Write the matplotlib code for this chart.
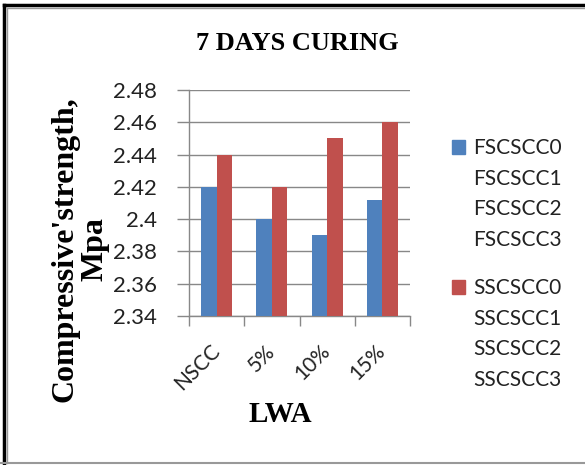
import matplotlib.pyplot as plt
import numpy as np
from matplotlib.patches import Patch
from matplotlib.lines import Line2D

# data
categories = ['NSCC', '5%', '10%', '15%']
fscscc = [2.42, 2.40, 2.39, 2.412]
sscscc = [2.44, 2.42, 2.45, 2.46]
f_labels = ['FSCSCC0', 'FSCSCC1', 'FSCSCC2', 'FSCSCC3']
s_labels = ['SSCSCC0', 'SSCSCC1', 'SSCSCC2', 'SSCSCC3']
yticks = [2.34, 2.36, 2.38, 2.40, 2.42, 2.44, 2.46, 2.48]
ytick_labels = ['2.34', '2.36', '2.38', '2.4', '2.42', '2.44', '2.46', '2.48']

blue = '#4f81bd'
red = '#c0504d'
tick_font = 'Lato'
serif = 'Liberation Serif'

fig = plt.figure(figsize=(5.85, 4.65), dpi=100)
ax = fig.add_axes([189/585, 1-316/465, (410-189)/585, (316-90)/465])

x = np.arange(len(categories))
w = 0.28
ax.bar(x - w/2, fscscc, w, color=blue, zorder=3)
ax.bar(x + w/2, sscscc, w, color=red, zorder=3)

ax.set_xlim(-0.5, len(categories) - 0.5)
ax.set_ylim(2.34, 2.48)
ax.set_yticks(yticks)
ax.set_yticklabels(ytick_labels, fontsize=16, family=tick_font, color='#222222')
ax.set_xticks(x)
ax.set_xticklabels(categories, fontsize=15, family=tick_font, color='#222222',
                   rotation=45, ha='right', va='center', rotation_mode='anchor')
ax.tick_params(axis='x', length=0, pad=23)
ax.set_xticks(np.arange(-0.5, len(categories)), minor=True)
ax.tick_params(axis='x', which='minor', length=7, color='#888888', width=1)
ax.tick_params(axis='y', length=9, color='#888888', width=1, pad=14)

ax.grid(axis='y', color='#888888', linewidth=1, zorder=0)
for s in ['top', 'right']:
    ax.spines[s].set_visible(False)
for s in ['left', 'bottom']:
    ax.spines[s].set_color('#888888')
    ax.spines[s].set_linewidth(1)

ax.set_ylabel("Compressive'strength,\nMpa", fontsize=23, family=serif,
              fontweight='bold', linespacing=1.05)
ax.yaxis.label.set_va('center')
ax.yaxis.set_label_coords((80-189)/221, (316-249)/226)
ax.set_xlabel('LWA', fontsize=21, family=serif, fontweight='bold')
ax.xaxis.label.set_va('center')
ax.xaxis.set_label_coords((280-189)/221, (316-415)/226)
fig.text(297/585, 1-44/465, '7 DAYS CURING', fontsize=19, family=serif,
         fontweight='bold', ha='center', va='center')

# legend: only the first of each group has a visible swatch
f_handles = [Patch(color=blue)] + [Patch(color='none')] * 3
s_handles = [Patch(color=red)] + [Patch(color='none')] * 3
leg_kw = dict(frameon=False, handlelength=0.6, handleheight=0.6, handletextpad=0.4,
              labelspacing=0.5, prop={'family': tick_font, 'size': 15},
              labelcolor='#222222', borderaxespad=0)
leg1 = fig.legend(f_handles, f_labels, loc='upper left',
                  bbox_to_anchor=(444/585, 1-130/465), **leg_kw)
leg2 = fig.legend(s_handles, s_labels, loc='upper left',
                  bbox_to_anchor=(444/585, 1-270/465), **leg_kw)

# chart frame
fig.add_artist(Line2D([4/585, 4/585], [0, 1-5/465], color='black', lw=2.5))
fig.add_artist(Line2D([4/585, 1], [1-5/465, 1-5/465], color='black', lw=2.5))
fig.add_artist(Line2D([7/585, 7/585], [2/465, 1-8/465], color='#999999', lw=1))
fig.add_artist(Line2D([7/585, 1], [1-8/465, 1-8/465], color='#999999', lw=1))
fig.add_artist(Line2D([0, 1], [2/465, 2/465], color='#999999', lw=1.5))

fig.savefig('out.png', dpi=100)
